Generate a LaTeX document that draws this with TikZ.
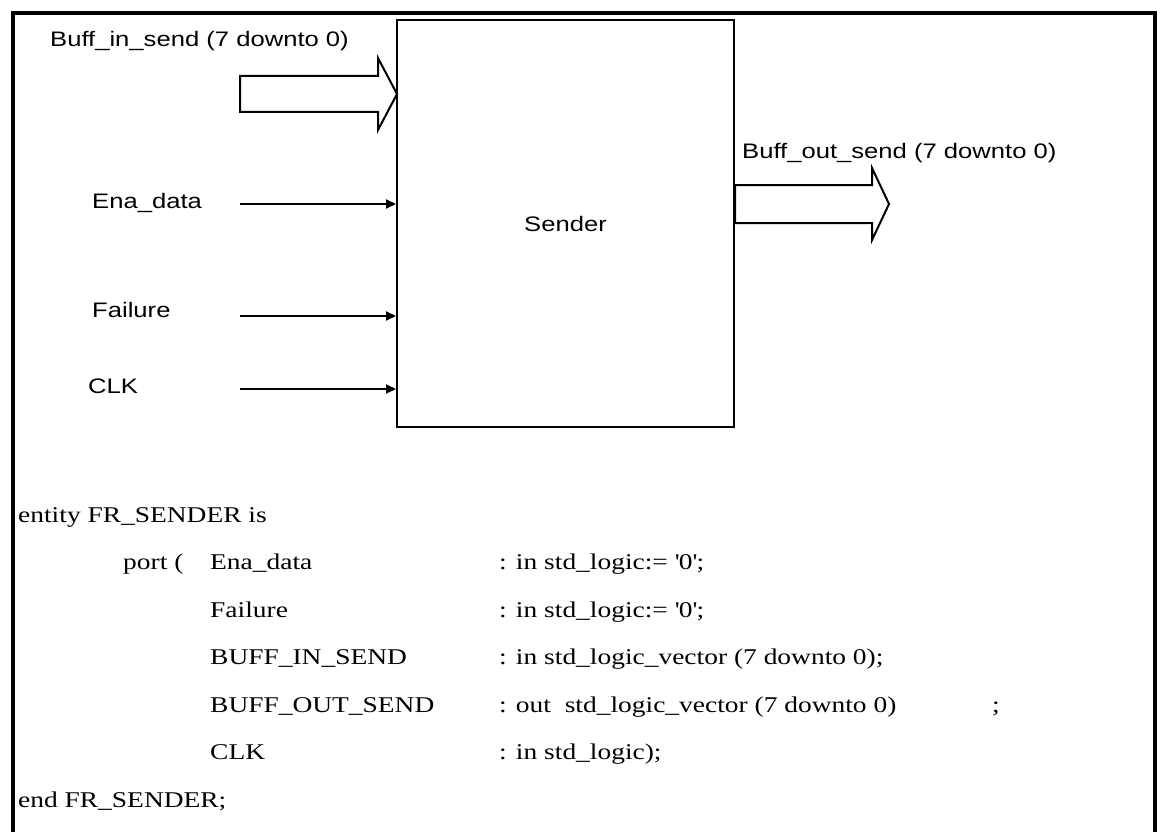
\documentclass[tikz,border=0pt]{standalone}
\usepackage{fontspec}
\usetikzlibrary{arrows.meta, positioning}
\newfontfamily\lblfont{Liberation Sans}[FakeStretch=1.22]
\newfontfamily\codefont{Liberation Serif}[FakeStretch=1.22]
\tikzset{
  portlbl/.style={inner sep=0pt, anchor=base west, font=\lblfont\fontsize{21}{24}\selectfont},
  codeln/.style={inner sep=0pt, anchor=base west, font=\codefont\fontsize{22.5}{26}\selectfont},
  sig/.style={line width=2pt, -{Triangle[length=10pt,width=9pt]}},
  bus/.style={line width=2pt, line join=miter},
  frame/.style={line width=4pt}
}
\begin{document}
\begin{tikzpicture}[x=1pt, y=-1pt]
  \useasboundingbox (0,0) rectangle (1161,832);
  % outer frame, open at the bottom
  \draw[frame] (13,832) |- (1155,13) -- (1155,832);

  % entity block
  \node[draw, line width=2pt, minimum width=337pt, minimum height=407pt,
        font=\lblfont\fontsize{21}{24}\selectfont] (sender) at (565.5,223.5) {Sender};

  % bus in
  \coordinate (busin) at (397,94);
  \draw[bus] (busin) -- ++(-19,-36) -- ++(0,18) -- ++(-138,0) -- ++(0,36)
             -- ++(138,0) -- ++(0,18) -- cycle;
  \node[portlbl] (businlbl) at (50,47) {Buff\_in\_send (7 downto 0)};

  % bus out
  \coordinate (busout) at (889,204);
  \draw[bus] (busout) -- ++(-17,-36) -- ++(0,17) -- ++(-137,0) -- ++(0,38)
             -- ++(137,0) -- ++(0,17) -- cycle;
  \node[portlbl] (busoutlbl) at (742,158) {Buff\_out\_send (7 downto 0)};

  % single bit inputs
  \coordinate (enain) at (240,204);
  \coordinate (failin) at (240,316);
  \coordinate (clkin) at (240,389);
  \draw[sig] (enain) -- (enain -| sender.west);
  \draw[sig] (failin) -- (failin -| sender.west);
  \draw[sig] (clkin) -- (clkin -| sender.west);
  \node[portlbl] (enalbl) at (92,208) {Ena\_data};
  \node[portlbl] (faillbl) at (92,317) {Failure};
  \node[portlbl] (clklbl) at (88,393) {CLK};

  % VHDL entity
  \node[codeln] (entity) at (18,522) {entity FR\_SENDER is};
  \node[codeln] (port) at (123,569.5) {port (};
  \foreach \nm/\ty [count=\i from 0] in {
    Ena\_data/{: in std\_logic:= \textquotesingle0\textquotesingle;},
    Failure/{: in std\_logic:= \textquotesingle0\textquotesingle;},
    BUFF\_IN\_SEND/{: in std\_logic\_vector (7 downto 0);},
    BUFF\_OUT\_SEND/{: out\ \ std\_logic\_vector (7 downto 0)},
    CLK/{: in std\_logic);}
  }{
    \node[codeln] (name\i) at (210,569.5+47.5*\i) {\nm};
    \node[codeln] (type\i) at (499,569.5+47.5*\i) {\ty};
  }
  \node[codeln] (semi) at (992,712) {;};
  \node[codeln] (endent) at (18,807) {end FR\_SENDER;};
\end{tikzpicture}
\end{document}
